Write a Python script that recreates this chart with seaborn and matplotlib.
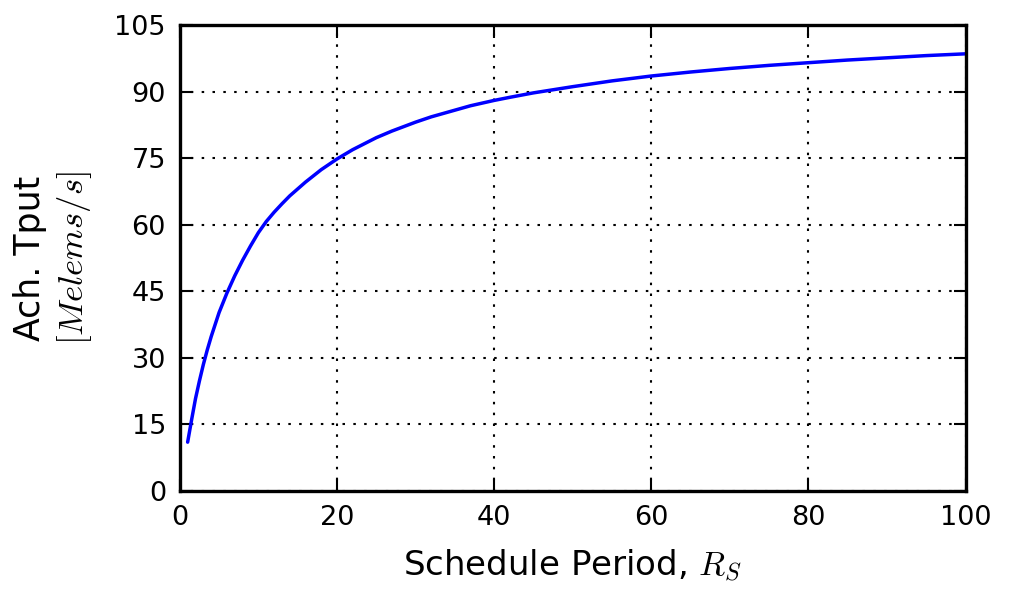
import pandas as pd
import matplotlib
matplotlib.use("Agg")
import matplotlib.pyplot as plt
import seaborn as sns

# valores
periodo = [1, 1.5, 2, 2.5, 3, 3.5, 4, 5, 6, 7, 8, 9, 10, 11, 12, 13, 14, 16, 18, 20, 22, 25, 27,
           30, 32, 35, 37, 40, 42, 45, 50, 55, 60, 65, 70, 75, 80, 85, 90, 95, 100]
tput = [11.0, 16.0, 20.8, 24.8, 28.5, 31.8, 34.8, 40.2, 44.6, 48.5, 52.0, 55.2, 58.2, 60.7, 62.8,
        64.7, 66.5, 69.6, 72.4, 74.8, 76.9, 79.6, 81.1, 83.1, 84.3, 85.8, 86.8, 88.0, 88.7, 89.7,
        91.1, 92.4, 93.5, 94.4, 95.2, 95.9, 96.5, 97.1, 97.6, 98.1, 98.5]
x_ticks = [0, 20, 40, 60, 80, 100]
y_ticks = [0, 15, 30, 45, 60, 75, 90, 105]

sns.set_style("white")
plt.rcParams['font.family'] = ['DejaVu Sans']
plt.rcParams['mathtext.fontset'] = 'cm'
plt.rcParams['text.color'] = 'black'
plt.rcParams['axes.labelcolor'] = 'black'
plt.rcParams['xtick.color'] = 'black'
plt.rcParams['ytick.color'] = 'black'

df = pd.DataFrame({'periodo': periodo, 'tput': tput})

fig = plt.figure(figsize=(10.1, 5.89), dpi=100)
ax = fig.add_axes([0.178, 0.1664, 0.778, 0.7912])

sns.lineplot(data=df, x='periodo', y='tput', color='#0000ff', linewidth=2.5, ax=ax)

ax.set_xlim(0, 100)
ax.set_ylim(0, 105)
ax.set_xticks(x_ticks)
ax.set_yticks(y_ticks)
ax.grid(True, color='black', linestyle=(0, (1.2, 4)), linewidth=1.5)
ax.tick_params(direction='in', length=9, width=1.5, labelsize=19.5, pad=10,
               top=True, right=True, bottom=True, left=True)
for s in ax.spines.values():
    s.set_linewidth(2.4)
    s.set_color('black')

ax.set_xlabel('Schedule Period, $R_S$', fontsize=24.5, labelpad=12)
ax.set_ylabel('')
ax.text(-0.19, 0.5, 'Ach. Tput', rotation=90, fontsize=25, ha='center', va='center',
        transform=ax.transAxes)
ax.text(-0.134, 0.5, r'$[Melems/s]$', rotation=90, fontsize=25, ha='center', va='center',
        transform=ax.transAxes)

fig.savefig('out.png', dpi=100)
